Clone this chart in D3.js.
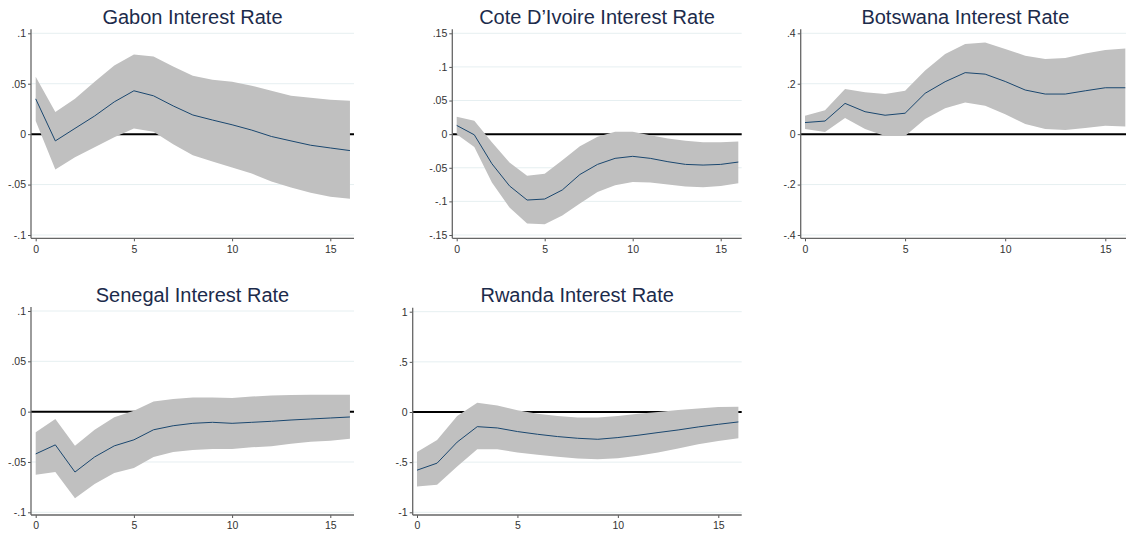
<!DOCTYPE html>
<html>
<head>
<meta charset="utf-8">
<script src="https://cdn.jsdelivr.net/npm/d3@7"></script>
<style>
  body { margin: 0; background: #fff; }
  svg { display: block; font-family: "Liberation Sans", Arial, sans-serif; }
  .title { font-size: 20px; fill: #1c2b4b; text-anchor: middle; }
  .tick-label { font-size: 10.5px; fill: #333; }
</style>
</head>
<body>
<svg id="chart" width="1126" height="535"></svg>
<script>
  const steps = d3.range(0, 17);
  const xTicks = [0, 5, 10, 15];

  const gabonIrf = [0.035, -0.0067, 0.0057, 0.018, 0.032, 0.043, 0.038, 0.028, 0.019, 0.014, 0.0093, 0.004, -0.0023, -0.0067, -0.011, -0.0137, -0.0163];
  const gabonUpper = [0.057, 0.022, 0.035, 0.052, 0.068, 0.079, 0.077, 0.067, 0.058, 0.054, 0.052, 0.048, 0.043, 0.038, 0.036, 0.034, 0.033];
  const gabonLower = [0.013, -0.035, -0.023, -0.013, -0.003, 0.0057, 0.0023, -0.01, -0.021, -0.027, -0.033, -0.039, -0.047, -0.053, -0.058, -0.062, -0.064];
  const gabonTicks = [0.1, 0.05, 0, -0.05, -0.1];
  const gabonTickLabels = ['.1', '.05', '0', '-.05', '-.1'];

  const coteIrf = [0.013, -0.001, -0.044, -0.077, -0.098, -0.0965, -0.083, -0.06, -0.045, -0.036, -0.033, -0.036, -0.041, -0.045, -0.046, -0.045, -0.0415];
  const coteUpper = [0.026, 0.02, -0.012, -0.042, -0.062, -0.059, -0.039, -0.018, -0.004, 0.0035, 0.0035, -0.0015, -0.0065, -0.01, -0.012, -0.012, -0.011];
  const coteLower = [0.0, -0.019, -0.072, -0.109, -0.133, -0.134, -0.121, -0.103, -0.086, -0.076, -0.071, -0.072, -0.075, -0.078, -0.079, -0.077, -0.073];
  const coteTicks = [0.15, 0.1, 0.05, 0, -0.05, -0.1, -0.15];
  const coteTickLabels = ['.15', '.1', '.05', '0', '-.05', '-.1', '-.15'];

  const botswanaIrf = [0.046, 0.052, 0.122, 0.089, 0.075, 0.083, 0.162, 0.208, 0.244, 0.238, 0.209, 0.175, 0.159, 0.159, 0.172, 0.184, 0.184];
  const botswanaUpper = [0.073, 0.095, 0.179, 0.166, 0.159, 0.172, 0.252, 0.318, 0.358, 0.364, 0.338, 0.311, 0.298, 0.302, 0.32, 0.334, 0.34];
  const botswanaLower = [0.02, 0.009, 0.064, 0.02, -0.007, -0.007, 0.06, 0.103, 0.126, 0.113, 0.079, 0.04, 0.02, 0.016, 0.024, 0.033, 0.03];
  const botswanaTicks = [0.4, 0.2, 0, -0.2, -0.4];
  const botswanaTickLabels = ['.4', '.2', '0', '-.2', '-.4'];

  const senegalIrf = [-0.042, -0.033, -0.06, -0.045, -0.034, -0.028, -0.018, -0.014, -0.0116, -0.0106, -0.0116, -0.0106, -0.0096, -0.0083, -0.0073, -0.0063, -0.0053];
  const senegalUpper = [-0.0205, -0.0073, -0.034, -0.018, -0.0056, 0.001, 0.01, 0.0126, 0.014, 0.014, 0.0136, 0.015, 0.016, 0.0166, 0.0169, 0.0169, 0.0169];
  const senegalLower = [-0.0626, -0.06, -0.086, -0.072, -0.061, -0.056, -0.045, -0.04, -0.038, -0.037, -0.037, -0.0354, -0.0344, -0.032, -0.03, -0.029, -0.027];
  const senegalTicks = [0.1, 0.05, 0, -0.05, -0.1];
  const senegalTickLabels = ['.1', '.05', '0', '-.05', '-.1'];

  const rwandaIrf = [-0.58, -0.51, -0.3, -0.146, -0.159, -0.195, -0.222, -0.245, -0.262, -0.272, -0.255, -0.232, -0.205, -0.179, -0.149, -0.123, -0.099];
  const rwandaUpper = [-0.4, -0.28, -0.04, 0.093, 0.066, 0.017, -0.017, -0.04, -0.056, -0.056, -0.04, -0.017, 0.0, 0.02, 0.036, 0.05, 0.053];
  const rwandaLower = [-0.742, -0.725, -0.543, -0.371, -0.371, -0.404, -0.427, -0.447, -0.464, -0.47, -0.46, -0.437, -0.404, -0.364, -0.321, -0.288, -0.262];
  const rwandaTicks = [1, 0.5, 0, -0.5, -1];
  const rwandaTickLabels = ['1', '.5', '0', '-.5', '-1'];

  // layout of each sub-graph, in pixels
  const panels = [
    { title: 'Gabon Interest Rate', irf: gabonIrf, upper: gabonUpper, lower: gabonLower,
      ticks: gabonTicks, labels: gabonTickLabels,
      axisX: 31, right: 354, x0: 35.7, x15: 330.3, top: 33.3, bottom: 235, axisY: 238.3, titleY: 23.5 },
    { title: 'Cote D\u2019Ivoire Interest Rate', irf: coteIrf, upper: coteUpper, lower: coteLower,
      ticks: coteTicks, labels: coteTickLabels,
      axisX: 452.3, right: 741.7, x0: 456.7, x15: 720.7, top: 33.3, bottom: 235, axisY: 238.3, titleY: 23.5 },
    { title: 'Botswana Interest Rate', irf: botswanaIrf, upper: botswanaUpper, lower: botswanaLower,
      ticks: botswanaTicks, labels: botswanaTickLabels,
      axisX: 800.7, right: 1130, x0: 805, x15: 1105.3, top: 33.3, bottom: 235, axisY: 238.3, titleY: 23.5 },
    { title: 'Senegal Interest Rate', irf: senegalIrf, upper: senegalUpper, lower: senegalLower,
      ticks: senegalTicks, labels: senegalTickLabels,
      axisX: 31, right: 354, x0: 35.7, x15: 330.3, top: 311, bottom: 512.3, axisY: 515, titleY: 301.5 },
    { title: 'Rwanda Interest Rate', irf: rwandaIrf, upper: rwandaUpper, lower: rwandaLower,
      ticks: rwandaTicks, labels: rwandaTickLabels,
      axisX: 412.7, right: 741.7, x0: 417, x15: 718.3, top: 311.7, bottom: 512.3, axisY: 515, titleY: 301.5 }
  ];

  const svg = d3.select('#chart');

  panels.forEach(p => {
    const maxTick = d3.max(p.ticks);
    const x = d3.scaleLinear().domain([0, 15]).range([p.x0, p.x15]);
    const y = d3.scaleLinear().domain([-maxTick, maxTick]).range([p.bottom, p.top]);
    const g = svg.append('g');

    // gridlines
    g.selectAll('line.grid')
      .data(p.ticks.filter(t => t !== 0))
      .enter()
      .append('line')
      .attr('class', 'grid')
      .attr('x1', p.axisX)
      .attr('x2', p.right)
      .attr('y1', d => y(d))
      .attr('y2', d => y(d))
      .attr('stroke', '#e6eff1')
      .attr('stroke-width', 1);

    // zero reference line
    g.append('line')
      .attr('x1', p.axisX)
      .attr('x2', p.right)
      .attr('y1', y(0))
      .attr('y2', y(0))
      .attr('stroke', '#000')
      .attr('stroke-width', 2);

    // confidence band
    const area = d3.area()
      .x((d, i) => x(steps[i]))
      .y0((d, i) => y(p.lower[i]))
      .y1((d, i) => y(p.upper[i]));
    g.append('path')
      .datum(steps)
      .attr('d', area)
      .attr('fill', '#c0c0c0');

    // impulse response
    const line = d3.line()
      .x((d, i) => x(steps[i]))
      .y(d => y(d));
    g.append('path')
      .datum(p.irf)
      .attr('d', line)
      .attr('fill', 'none')
      .attr('stroke', '#1a476f')
      .attr('stroke-width', 1);

    // y axis
    const yAxis = d3.axisLeft(y)
      .tickValues(p.ticks)
      .tickFormat((d, i) => p.labels[i])
      .tickSize(3)
      .tickPadding(2);
    const ya = g.append('g')
      .attr('transform', `translate(${p.axisX},0)`)
      .call(yAxis);
    ya.select('.domain').remove();
    ya.append('line')
      .attr('y1', p.top - 4)
      .attr('y2', p.axisY)
      .attr('stroke', '#666')
      .attr('stroke-width', 1.3);
    ya.selectAll('.tick line').attr('stroke', '#555');
    ya.selectAll('.tick text')
      .attr('class', 'tick-label')
      .attr('font-size', null)
      .attr('font-family', null);

    // x axis
    const xAxis = d3.axisBottom(x)
      .tickValues(xTicks)
      .tickFormat(d3.format('d'))
      .tickSize(3)
      .tickPadding(4);
    const xa = g.append('g')
      .attr('transform', `translate(0,${p.axisY})`)
      .call(xAxis);
    xa.select('.domain').remove();
    xa.append('line')
      .attr('x1', p.axisX)
      .attr('x2', p.right)
      .attr('stroke', '#666')
      .attr('stroke-width', 1.3);
    xa.selectAll('.tick line').attr('stroke', '#555');
    xa.selectAll('.tick text')
      .attr('class', 'tick-label')
      .attr('font-size', null)
      .attr('font-family', null);

    // title
    g.append('text')
      .attr('class', 'title')
      .attr('x', (p.axisX + p.right) / 2)
      .attr('y', p.titleY)
      .text(p.title);
  });
</script>
</body>
</html>
